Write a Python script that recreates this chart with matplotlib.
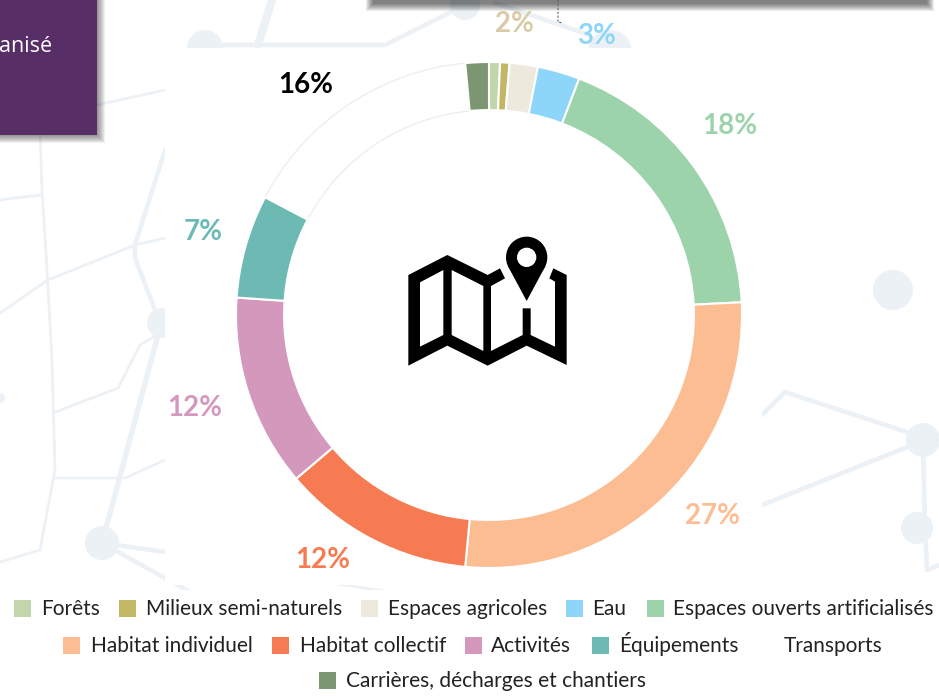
import matplotlib
matplotlib.use("Agg")
import matplotlib.pyplot as plt
from matplotlib.patches import Circle, Polygon, Rectangle

categories = ["Forêts", "Milieux semi-naturels", "Espaces agricoles", "Eau",
              "Espaces ouverts artificialisés", "Habitat individuel", "Habitat collectif",
              "Activités", "Équipements", "Transports", "Carrières, décharges et chantiers"]
shares = [0.7, 0.6, 1.8, 2.7, 18.4, 27.3, 12.3, 12.3, 6.6, 15.8, 1.5]
colors = ["#c3d6ab", "#c1b765", "#ede9dd", "#8dd6f9", "#9dd3ab", "#fdbd93", "#f67b53",
          "#d498bc", "#6dbab5", "#ffffff", "#7d9672"]

pct_labels = ["2%", "3%", "18%", "27%", "12%", "12%", "7%", "16%"]
pct_colors = ["#d9cba8", "#8dd6f9", "#9dd3ab", "#fdbd93", "#f67b53", "#d498bc", "#6dbab5", "#000000"]
pct_pos = [(514, 24), (597, 36), (730, 126), (713, 516), (323, 560), (195, 408), (203, 232), (306, 85)]

# legende : (index categorie, x carre, x texte, y)
legend_pos = [(0, 14, 41, 609), (1, 119, 146, 609), (2, 361, 388, 609), (3, 566, 592, 609),
              (4, 647, 673, 609), (5, 63, 91, 646), (6, 272, 300, 646), (7, 465, 491, 646),
              (8, 592, 619, 646), (9, 757, 784, 646), (10, 319, 346, 681)]

BG = "#ecf1f6"
W, H = 939, 698

fig = plt.figure(figsize=(W / 100, H / 100), dpi=100, facecolor="white")

# fond en coordonnees pixels
bg = fig.add_axes([0, 0, 1, 1], zorder=0)
bg.set_xlim(0, W)
bg.set_ylim(H, 0)
bg.axis("off")

lines = [
    ([40, 42, 47, 52, 55, 40, 0], [130, 190, 270, 360, 470, 550, 562], 3),
    ([0, 14, 42], [200, 198, 195], 3),
    ([0, 48, 135, 165], [313, 280, 245, 238], 3),
    ([165, 135, 135, 155], [150, 245, 258, 310], 5),
    ([165, 140, 118, 53], [330, 345, 388, 413], 3),
    ([158, 102], [335, 543], 6),
    ([53, 125, 165], [478, 478, 460], 3),
    ([102, 165], [543, 552], 5),
    ([102, 190], [543, 592], 5),
    ([97, 165], [105, 90], 3),
    ([205, 385, 465], [45, 45, 5], 5),
    ([272, 258], [0, 45], 9),
    ([495, 590], [3, 35], 5),
    ([762, 785, 925], [415, 392, 438], 5),
    ([762, 925], [505, 440], 5),
    ([923, 925, 927, 939], [440, 530, 570, 565], 5),
    ([330, 420], [583, 596], 3),
]
for x, y, lw in lines:
    bg.plot(x, y, color=BG, lw=lw * 0.65, solid_capstyle="round", solid_joinstyle="round")
for cx, cy, r in [(162, 323, 15), (102, 543, 17), (0, 398, 5), (205, 48, 18), (465, 5, 15),
                  (610, 52, 22), (893, 290, 20), (923, 440, 17), (917, 528, 16)]:
    bg.add_patch(Circle((cx, cy), r, color=BG, lw=0))

# cadre blanc du graphique
bg.add_patch(Rectangle((165, 48), 597, 537, color="white", lw=0, zorder=3))
bg.add_patch(Rectangle((0, 590), W, 108, color="white", lw=0, zorder=3))

# ombres
for i in range(8):
    a = 0.06
    bg.add_patch(Rectangle((0, 0), 97 + 8 - i, 135 + 8 - i, color="black", alpha=a, lw=0, zorder=4))
    bg.add_patch(Rectangle((366 + i, 0), 568 - 2 * i, 11 - i, color="black", alpha=a + 0.02, lw=0, zorder=4))
bg.add_patch(Rectangle((0, 0), 97, 135, color="#572f66", lw=0, zorder=5))
bg.text(52, 47, "anisé", color="white", fontsize=15.5, family="Open Sans", ha="right", va="center", zorder=6)
bg.plot([558, 558, 563], [0, 22, 23], color="#666666", lw=0.8, ls=(0, (2, 1.5)), zorder=6)

# anneau
ax = fig.add_axes([236 / W, (H - 568) / H, 506 / W, 506 / H], zorder=2)
wedges, _ = ax.pie(shares, colors=colors, startangle=90, counterclock=False, radius=1,
                   wedgeprops={"width": 0.19, "edgecolor": "white", "linewidth": 1.5})
wedges[9].set_edgecolor("#eeeeee")
wedges[9].set_linewidth(1)
wedges[9].set_zorder(0)
ax.set_xlim(-1, 1)
ax.set_ylim(-1, 1)

# surcouche : textes, legende, icone
top = fig.add_axes([0, 0, 1, 1], zorder=3)
top.set_xlim(0, W)
top.set_ylim(H, 0)
top.axis("off")
top.patch.set_alpha(0)

for s, c, (x, y) in zip(pct_labels, pct_colors, pct_pos):
    top.text(x, y, s, color=c, fontsize=20, fontweight="bold", family="Lato", ha="center", va="center")

for i, sx, tx, y in legend_pos:
    if categories[i] != "Transports":
        top.add_patch(Rectangle((sx, y - 9), 17, 17, color=colors[i], lw=0))
    top.text(tx, y + 6, categories[i], fontsize=15, family="Lato", color="#222222", va="baseline", ha="left")


def icon(pts):
    return [(390 + x / 3, 225 + y / 3) for x, y in pts]


top.add_patch(Polygon(icon([(55, 150), (172, 90), (293, 150), (330, 130), (345, 160), (303, 183),
                            (303, 378), (398, 330), (398, 250), (422, 250), (422, 330), (495, 365),
                            (495, 170), (478, 160), (490, 130), (530, 150), (530, 420), (410, 362),
                            (293, 422), (172, 362), (55, 422)]), color="black", lw=0))
top.add_patch(Polygon(icon([(90, 172), (160, 135), (160, 330), (90, 365)]), color="white", lw=0))
top.add_patch(Polygon(icon([(185, 135), (280, 183), (280, 378), (185, 330)]), color="white", lw=0))
top.add_patch(Polygon(icon([(353, 122), (467, 122), (410, 228)]), color="black", lw=0))
top.add_patch(Circle((390 + 410 / 3, 225 + 97 / 3), 62 / 3, color="black", lw=0))
top.add_patch(Circle((390 + 410 / 3, 225 + 97 / 3), 29 / 3, color="white", lw=0))

fig.savefig("out.png", dpi=100)
